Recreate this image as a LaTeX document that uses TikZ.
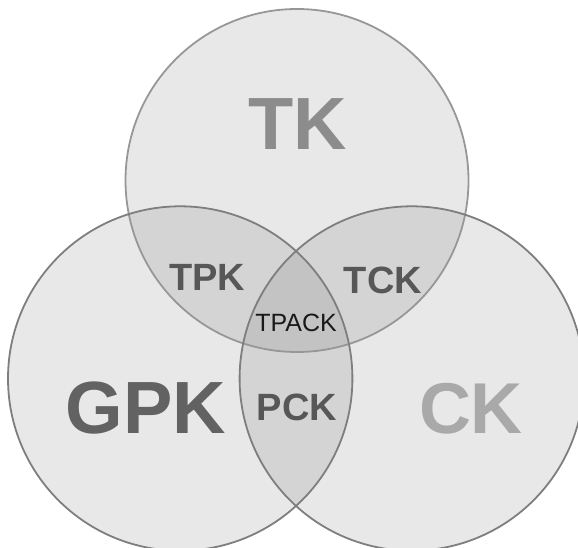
\documentclass[tikz,border=0pt]{standalone}
\usepackage{fontspec}
\setmainfont{Liberation Sans}
\definecolor{ringline}{HTML}{7E7E7E}
\definecolor{ringlight}{HTML}{979797}
\definecolor{tint}{HTML}{4E4E4E}
\definecolor{tkgray}{HTML}{8C8C8C}
\definecolor{ckgray}{HTML}{A9A9A9}
\definecolor{darklabel}{HTML}{575757}
\definecolor{gpkgray}{HTML}{626262}
\begin{document}
\begin{tikzpicture}[x=1pt,y=-1pt,
  disc/.style={fill=tint,fill opacity=0.13},
  ring/.style={draw=ringline,line width=1.8pt},
  biglabel/.style={font=\bfseries\fontsize{74}{74}\selectfont,anchor=base,inner sep=0pt},
  midlabel/.style={font=\bfseries\fontsize{38}{38}\selectfont,anchor=base,inner sep=0pt,text=darklabel},
  corelabel/.style={font=\fontsize{25}{25}\selectfont,anchor=base,inner sep=0pt,text=black!90}]
  \useasboundingbox (0,0) rectangle (578,548);
  \clip (0,0) rectangle (578,548);
  % the three knowledge domains
  \coordinate (ctop) at (297,180.5);
  \coordinate (cleft) at (180.2,378.5);
  \coordinate (cright) at (411.8,378.5);
  \fill[disc] (ctop) circle[radius=171.5];
  \fill[disc] (cleft) circle[radius=172.2];
  \fill[disc] (cright) circle[radius=172.2];
  \draw[ring,draw=ringlight] (ctop) circle[radius=171.5];
  \draw[ring] (cleft) circle[radius=172.2];
  \draw[ring] (cright) circle[radius=172.2];
  % labels
  \node[biglabel,text=tkgray] (tk) at (298,150) {TK};
  \node[biglabel,text=gpkgray] (gpk) at (146,433.5) {GPK};
  \node[biglabel,text=ckgray,font=\bfseries\fontsize{72}{72}\selectfont] (ck) at (471,433.3) {CK};
  \node[midlabel] (tpk) at (207,290.7) {TPK};
  \node[midlabel] (tck) at (383,293.3) {TCK};
  \node[midlabel] (pck) at (297,420) {PCK};
  \node[corelabel] (tpack) at (296,331.7) {TPACK};
\end{tikzpicture}
\end{document}
